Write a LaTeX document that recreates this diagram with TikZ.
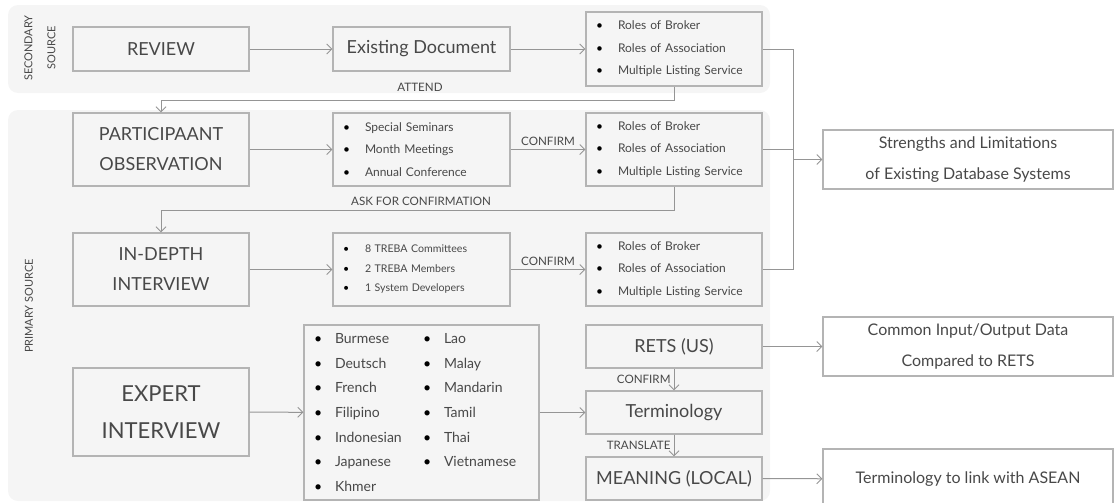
\documentclass[tikz,border=0pt]{standalone}
\usepackage{fontspec}
\setmainfont{Lato}
\usetikzlibrary{arrows.meta,positioning}
\definecolor{txtgray}{HTML}{484848}
\definecolor{boxgray}{HTML}{B4B4B4}
\definecolor{linegray}{HTML}{959595}
\definecolor{bggray}{HTML}{F5F5F5}
\newcommand{\itm}{\makebox[11pt][l]{\textcolor{black}{\textbullet}}}
\newcommand{\itl}{\makebox[10.5pt][l]{\textcolor{black}{\textbullet}}}

\begin{document}
\begin{tikzpicture}[x=0.5pt,y=-0.5pt,>={Straight Barb[length=2.5pt,width=5pt]},
  box/.style={draw=boxgray,line width=0.55pt,inner sep=0pt,align=center,text=txtgray,
    font=\fontsize{9}{15}\selectfont},
  listbox/.style={box,align=left,inner xsep=5pt,text width=#1,
    font=\fontsize{6}{11.25}\selectfont},
  outbox/.style={box,minimum width=145pt,font=\fontsize{8}{15.5}\selectfont},
  conn/.style={draw=linegray,line width=0.5pt,->},
  line/.style={draw=linegray,line width=0.5pt},
  lbl/.style={text=txtgray,inner sep=1.5pt,font=\fontsize{5.8}{7}\selectfont},
  side/.style={text=txtgray,inner sep=0pt,rotate=90,align=center,font=\fontsize{5.5}{11.5}\selectfont}]
\useasboundingbox (0,0) rectangle (1114,503);
% source areas
\fill[bggray,rounded corners=5pt] (8,5) rectangle (770,93);
\fill[bggray,rounded corners=5pt] (8,110) rectangle (770,501);
\node[side] (secsrc) at (40,48) {SECONDARY\\SOURCE};
\node[side] (prisrc) at (29,306) {PRIMARY SOURCE};

% left column
\node[box,minimum width=88pt,minimum height=22pt] (review) at (161,49) {REVIEW};
\node[box,minimum width=88pt,minimum height=36.5pt] (partobs) at (161,149.5) {PARTICIPAANT\\OBSERVATION};
\node[box,minimum width=88pt,minimum height=36.5pt] (indepth) at (161,269.5) {IN-DEPTH\\INTERVIEW};
\node[box,minimum width=88pt,minimum height=44pt,font=\fontsize{11}{18.5}\selectfont] (expert) at (161,412) {EXPERT\\INTERVIEW};

% middle column
\node[box,minimum width=88.5pt,minimum height=22pt] (existdoc) at (421.5,49) {Existing Document};
\node[listbox=78.5pt,minimum height=36.5pt] (events) at (421.5,149.5)
  {\itm Special Seminars\\\itm Month Meetings\\\itm Annual Conference};
\node[listbox=78.5pt,minimum height=36.5pt,font=\fontsize{5.3}{9.75}\selectfont] (treba) at (421.5,269.5)
  {\itm 8 TREBA Committees\\\itm 2 TREBA Members\\\itm 1 System Developers};
\node[listbox=107.5pt,minimum height=87.5pt,font=\fontsize{7}{12.35}\selectfont] (langs) at (421.5,412.5)
  {\begin{tabular}{@{}p{54.5pt}@{}l@{}}
   \itl Burmese & \itl Lao\\
   \itl Deutsch & \itl Malay\\
   \itl French & \itl Mandarin\\
   \itl Filipino & \itl Tamil\\
   \itl Indonesian & \itl Thai\\
   \itl Japanese & \itl Vietnamese\\
   \itl Khmer &
   \end{tabular}};

% right column
\node[listbox=78pt,minimum height=37pt] (roles1) at (674,49)
  {\itm Roles of Broker\\\itm Roles of Association\\\itm Multiple Listing Service};
\node[listbox=78pt,minimum height=36.5pt] (roles2) at (674,149.5)
  {\itm Roles of Broker\\\itm Roles of Association\\\itm Multiple Listing Service};
\node[listbox=78pt,minimum height=36.5pt] (roles3) at (674,269.5)
  {\itm Roles of Broker\\\itm Roles of Association\\\itm Multiple Listing Service};
\node[box,minimum width=88pt,minimum height=21.5pt] (rets) at (674,346.5) {RETS (US)};
\node[box,minimum width=88pt,minimum height=21.5pt] (termin) at (674,412.5) {Terminology};
\node[box,minimum width=88pt,minimum height=21.5pt] (meaning) at (674,478.5) {MEANING (LOCAL)};

% results
\node[outbox,minimum height=29.5pt] (strength) at (968,159.5) {Strengths and Limitations\\of Existing Database Systems};
\node[outbox,minimum height=29.5pt] (common) at (968,346.5) {Common Input/Output Data\\Compared to RETS};
\node[outbox,minimum height=30pt] (asean) at (968,479) {Terminology to link with ASEAN};
\coordinate (merge) at (793,159.5);

% connectors
\draw[conn] (review) -- (existdoc);
\draw[conn] (existdoc) -- (roles1);
\draw[conn] (roles1.south) -- ++(0,14) -| (partobs.north);
\node[lbl] (attend) at (420,87) {ATTEND};
\draw[conn] (partobs) -- (events);
\draw[conn] (events) -- node[lbl,above] (confa) {CONFIRM} (roles2);
\draw[conn] (roles2.south) -- ++(0,24) -| (indepth.north);
\node[lbl] (askconf) at (421,201) {ASK FOR CONFIRMATION};
\draw[conn] (indepth) -- (treba);
\draw[conn] (treba) -- node[lbl,above] (confb) {CONFIRM} (roles3);
\draw[line] (roles1.east) -| (merge);
\draw[line] (roles2.east) -| (merge);
\draw[line] (roles3.east) -| (merge);
\draw[conn] (merge) -- (strength);
\draw[conn] (expert) -- (langs);
\draw[conn] (langs) -- (termin);
\draw[conn] (rets) -- node[lbl,left] (confc) {CONFIRM} (termin);
\draw[conn] (termin) -- node[lbl,left] (transl) {TRANSLATE} (meaning);
\draw[conn] (rets) -- (common);
\draw[conn] (meaning) -- (asean);
\end{tikzpicture}
\end{document}
